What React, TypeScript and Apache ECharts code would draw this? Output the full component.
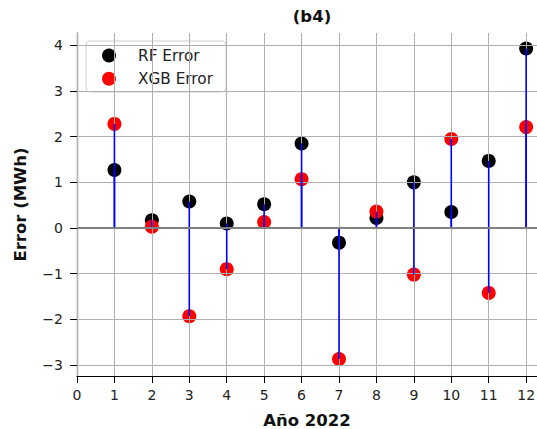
import React, { useEffect, useRef } from "react";
import * as echarts from "echarts";

const months = [1, 2, 3, 4, 5, 6, 7, 8, 9, 10, 11, 12];
const rfError = [1.27, 0.17, 0.58, 0.1, 0.52, 1.85, -0.32, 0.22, 1.0, 0.35, 1.47, 3.93];
const xgbError = [2.28, 0.03, -1.93, -0.9, 0.13, 1.07, -2.87, 0.36, -1.02, 1.95, -1.42, 2.21];
const xTicks = [0, 1, 2, 3, 4, 5, 6, 7, 8, 9, 10, 11, 12];
const yTicks = [-3, -2, -1, 0, 1, 2, 3, 4];
const legendNames = ["RF Error", "XGB Error"];
const legendColors = ["#000000", "#ff0000"];

const FONT = "DejaVu Sans";
const TICK_FS = 14;
const LABEL_FS = 16.5;
const LEGEND_FS = 15.3;

export default function App() {
  const ref = useRef<HTMLDivElement>(null);
  useEffect(() => {
    if (!ref.current) return;
    const chart = echarts.init(ref.current, null, { renderer: "svg" });
    const rfData = months.map((m, i) => [m, rfError[i]]);
    const xgbData = months.map((m, i) => [m, xgbError[i]]);
    const stemItem = (params: any, api: any) => {
      const x = api.value(0);
      const y = api.value(1);
      const p0 = api.coord([x, 0]);
      const p1 = api.coord([x, y]);
      return {
        type: "line",
        shape: { x1: p0[0], y1: p0[1], x2: p1[0], y2: p1[1] },
        style: { stroke: "#0000ff", lineWidth: 1.6 },
      };
    };
    const grey = { color: "#b0b0b0", width: 1, type: "solid" };
    const legendItems: any[] = [];
    legendNames.forEach((n, i) => {
      const cy = 55.5 + i * 23.3;
      legendItems.push({
        type: "circle",
        shape: { cx: 109, cy, r: 7 },
        style: { fill: legendColors[i] },
      });
      legendItems.push({
        type: "text",
        x: 138,
        y: cy,
        style: {
          text: n,
          fontFamily: FONT,
          fontSize: LEGEND_FS,
          fill: "#222",
          verticalAlign: "middle",
          align: "left",
        },
      });
    });
    chart.setOption({
      animation: false,
      backgroundColor: "#ffffff",
      title: {
        text: "(b4)",
        left: 307,
        top: 3,
        textAlign: "center",
        textStyle: { fontFamily: FONT, fontSize: LABEL_FS, fontWeight: "bold", color: "#111" },
      },
      graphic: [
        {
          type: "group",
          z: 100,
          children: [
            {
              type: "rect",
              shape: { x: 86, y: 41, width: 140, height: 51, r: 4 },
              style: { fill: "rgba(255,255,255,0.8)", stroke: "#d0d0d0", lineWidth: 1 },
            },
            ...legendItems,
          ],
        },
      ],
      grid: { left: 77, top: 33, right: 0, bottom: 53, outerBoundsMode: "none", containLabel: false },
      xAxis: {
        type: "value",
        min: 0,
        max: 12.29,
        name: "Año 2022",
        nameLocation: "middle",
        nameGap: 36,
        nameTextStyle: { fontFamily: FONT, fontSize: LABEL_FS, fontWeight: "bold", color: "#111" },
        axisLine: { show: true, onZero: false, lineStyle: { color: "#000", width: 1.2 } },
        axisTick: { show: true, inside: false, length: 7, customValues: xTicks, lineStyle: { color: "#000" } },
        axisLabel: {
          customValues: xTicks,
          margin: 12,
          fontFamily: FONT,
          fontSize: TICK_FS,
          color: "#222",
        },
        splitLine: { show: false },
      },
      yAxis: {
        type: "value",
        min: -3.24,
        max: 4.27,
        name: "Error (MWh)",
        nameLocation: "middle",
        nameGap: 48,
        nameRotate: 90,
        nameTextStyle: { fontFamily: FONT, fontSize: LABEL_FS, fontWeight: "bold", color: "#111" },
        axisLine: { show: true, onZero: false, lineStyle: { color: "#000", width: 1.2 } },
        axisTick: { show: true, inside: false, length: 7, customValues: yTicks, lineStyle: { color: "#000" } },
        axisLabel: {
          customValues: yTicks,
          margin: 14,
          fontFamily: FONT,
          fontSize: TICK_FS,
          color: "#222",
          formatter: (v: number) => (v < 0 ? "\u2212" + Math.abs(v) : String(v)),
        },
        splitLine: { show: false },
      },
      series: [
        {
          type: "scatter",
          name: "RF Error",
          data: rfData,
          symbol: "circle",
          symbolSize: 14,
          itemStyle: { color: "#000000", opacity: 1 },
          z: 1,
        },
        {
          type: "scatter",
          name: "XGB Error",
          data: xgbData,
          symbol: "circle",
          symbolSize: 14,
          itemStyle: { color: "#ff0000", opacity: 1 },
          z: 1,
        },
        {
          type: "line",
          name: "grid",
          data: [],
          z: 2,
          silent: true,
          markLine: {
            z: 2,
            silent: true,
            symbol: "none",
            label: { show: false },
            lineStyle: grey,
            data: [
              ...xTicks.map((v) => ({ xAxis: v })),
              ...yTicks.filter((v) => v !== 0).map((v) => ({ yAxis: v })),
            ],
          },
        },
        {
          type: "custom",
          name: "stemRF",
          data: rfData,
          renderItem: stemItem,
          z: 3,
          silent: true,
        },
        {
          type: "custom",
          name: "stemXGB",
          data: xgbData,
          renderItem: stemItem,
          z: 3,
          silent: true,
          markLine: {
            z: 4,
            silent: true,
            symbol: "none",
            label: { show: false },
            lineStyle: { color: "#808080", width: 2.2, type: "solid" },
            data: [{ yAxis: 0 }],
          },
        },
      ],
    });
    return () => chart.dispose();
  }, []);
  return (
    <div
      ref={ref}
      style={{ position: "fixed", left: 0, top: 0, width: 537, height: 429 }}
    />
  );
}
